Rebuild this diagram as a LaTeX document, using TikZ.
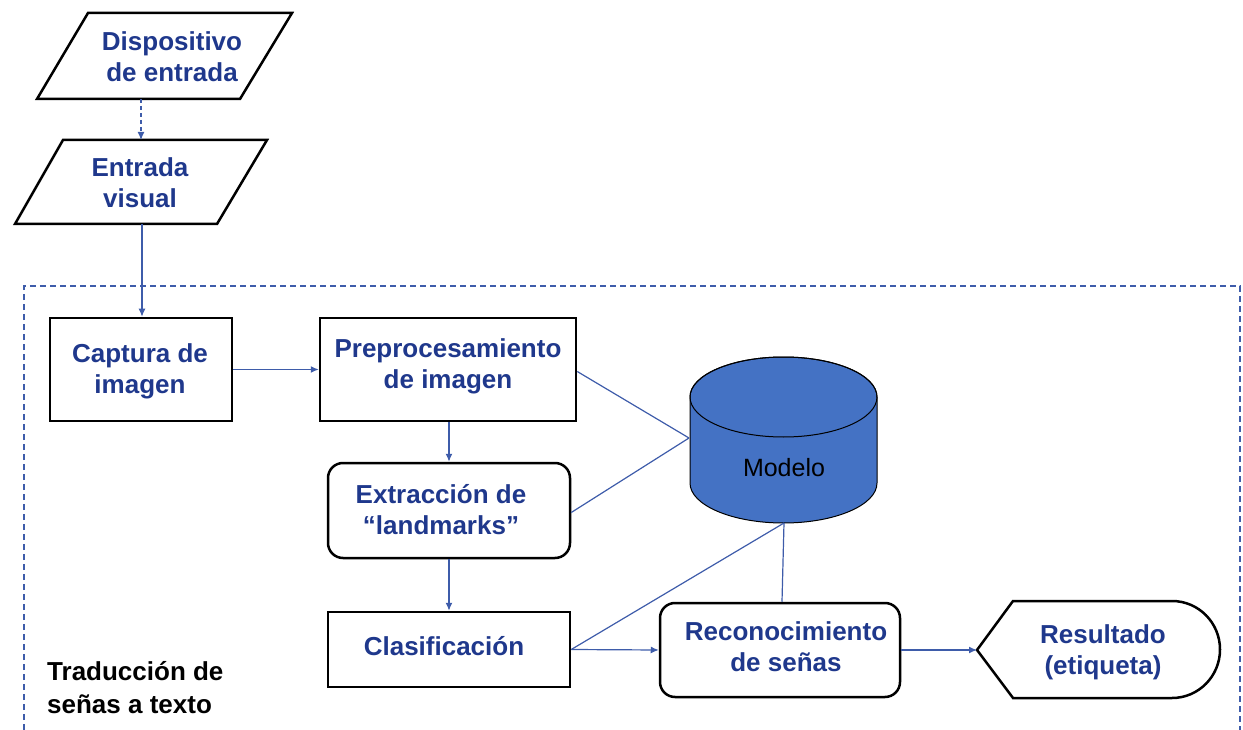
\documentclass[tikz,border=0pt]{standalone}
\usepackage{fontspec}
\setmainfont{Liberation Sans}
\usetikzlibrary{arrows.meta}
\definecolor{txtblue}{RGB}{31,56,140}
\definecolor{linkblue}{RGB}{62,92,170}
\definecolor{cylblue}{RGB}{68,114,196}
\tikzset{
  txt/.style={text=txtblue, font=\fontsize{26}{31}\selectfont\bfseries, align=center, inner sep=0pt},
  boxnode/.style={draw=black, line width=2.5pt, fill=white, inner sep=0pt},
  rbox/.style={boxnode, rounded corners=15pt},
  shapeline/.style={draw=black, line width=2.5pt, line join=miter},
  link/.style={draw=linkblue, line width=1.2pt},
  arr/.style={link, -{Latex[length=8pt,width=7pt]}},
}
\begin{document}
\begin{tikzpicture}[x=1pt,y=-1pt]
\useasboundingbox (0,0) rectangle (1243,730);
% group frame
\draw[linkblue, line width=1.2pt, dash pattern=on 6pt off 4pt] (24,740) -- (24,286) -- (1240,286) -- (1240,740);
% parallelograms
\draw[shapeline] (88,13) -- (292,13) -- (240,99) -- (37,99) -- cycle;
\coordinate (dispB) at (141,99);
\node[txt] (disp) at (172,57) {Dispositivo\\de entrada};
\draw[shapeline] (63,140) -- (267,140) -- (217,224) -- (15,224) -- cycle;
\coordinate (visT) at (141,140);
\coordinate (visB) at (142,224);
\node[txt] (vis) at (140,183) {Entrada\\visual};
% boxes
\node[boxnode, minimum width=182pt, minimum height=103pt] (cap) at (141,369.5) {};
\node[txt] (capt) at (140,371) {Captura de\\imagen};
\node[boxnode, minimum width=256pt, minimum height=103pt] (pre) at (448,369.5) {};
\node[txt] (pret) at (448,366) {Preprocesamiento\\de imagen};
\node[rbox, minimum width=242pt, minimum height=95pt] (ext) at (449,510.5) {};
\node[txt] (extt) at (441,510) {Extracción de\\“landmarks”};
\node[boxnode, minimum width=242pt, minimum height=75pt] (cla) at (449,649.5) {};
\node[txt] (clat) at (444,646) {Clasificación};
\node[rbox, minimum width=240pt, minimum height=94pt] (rec) at (780,650) {};
\node[txt] (rect) at (786,647) {Reconocimiento\\de señas};
% Resultado display shape
\draw[shapeline] (977,650) -- (1013,601) -- (1172,601) arc[start angle=-90, end angle=90, x radius=48, y radius=48.5] -- (1013,698) -- cycle;
\coordinate (resL) at (977,650);
\node[txt] (rest) at (1103,652) {Resultado\\(etiqueta)};
% cylinder
\filldraw[fill=cylblue, draw=black, line width=1pt] (690,397) -- (690,483) arc[start angle=180, end angle=0, x radius=93.5, y radius=40] -- (877,397) arc[start angle=0, end angle=-180, x radius=93.5, y radius=40] -- cycle;
\draw[black, line width=1pt] (783.5,397) ellipse [x radius=93.5, y radius=40];
\coordinate (cylL) at (689,438);
\coordinate (cylB) at (784,523);
\node[font=\fontsize{25}{30}\selectfont, inner sep=0pt] (mod) at (784,468) {Modelo};
% label
\node[font=\fontsize{26}{33}\selectfont\bfseries, align=left, anchor=north west, inner sep=0pt] (lab) at (47,661) {Traducción de\\señas a texto};
% connectors
\draw[arr, dash pattern=on 4pt off 3pt] (dispB) -- (visT);
\draw[arr] (visB) -- (cap.north -| visB);
\draw[arr] (cap.east) -- (pre.west);
\draw[arr] (pre.south -| ext.north) -- (ext.north);
\draw[arr] (ext.south) -- (cla.north);
\draw[arr] (cla.east) -- (rec.west);
\draw[arr] (rec.east) -- (resL);
\draw[link] (pre.east) ++(0,2) -- (cylL);
\draw[link] (ext.east) ++(0,2) -- (cylL);
\draw[link] (cla.east) -- (cylB);
\draw[link] (cylB) -- (rec.north -| 782,0);
\end{tikzpicture}
\end{document}
